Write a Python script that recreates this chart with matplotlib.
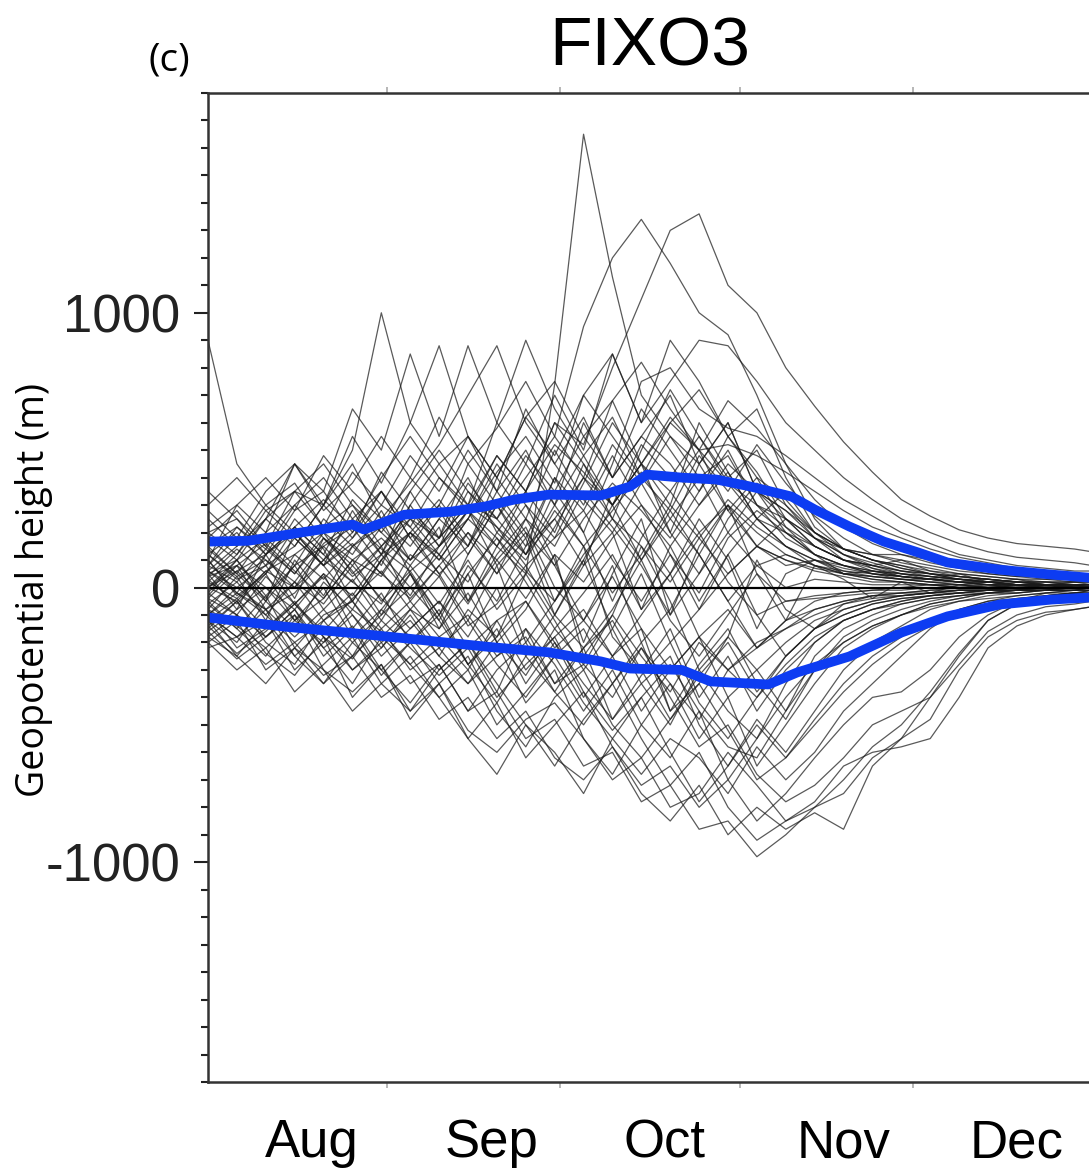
import matplotlib.pyplot as plt
from matplotlib.ticker import MultipleLocator, FixedLocator, NullFormatter

plt.rcParams['axes.unicode_minus'] = False

# x positions: days since 1 Aug
days = [0, 5, 10, 15, 20, 25, 30, 35, 40, 45, 50, 55, 60, 65, 70, 75,
        80, 85, 90, 95, 100, 105, 110, 115, 120, 125, 130, 135, 140, 145, 150, 153]

# ensemble members, geopotential height anomaly in dam
members_dam = [
    [5, 10, -3, 8, 15, 4, 12, 20, 10, 25, 15, 5, 74, 165, 113, 70, 55, 40, 48, 30, 18, 12, 5, 3, 2, 1, 0, 1, 0, 1, 0, 0],
    [0, -5, 6, 12, 3, 15, 22, 10, 18, 30, 25, 40, 55, 95, 120, 134, 118, 100, 92, 70, 45, 25, 14, 12, 10, 8, 6, 5, 4, 4, 3, 3],
    [8, 2, 14, 5, 18, 10, 4, 20, 12, 28, 15, 35, 60, 52, 80, 105, 130, 136, 110, 100, 80, 66, 53, 42, 32, 26, 21, 18, 16, 15, 14, 13],
    [90, 45, 30, 38, 22, 30, 15, 25, 18, 30, 22, 12, 25, 40, 30, 45, 35, 20, 30, 15, 8, 10, 5, 6, 4, 3, 5, 2, 3, 1, 2, 1],
    [20, 25, 15, 35, 30, 50, 100, 60, 45, 55, 35, 50, 30, 60, 40, 55, 70, 45, 60, 35, 20, 15, 10, 8, 10, 6, 4, 3, 2, 2, 1, 1],
    [10, 30, 20, 45, 35, 65, 50, 85, 55, 88, 60, 45, 70, 50, 85, 60, 90, 75, 55, 65, 40, 22, 14, 10, 8, 5, 4, 3, 2, 1, 1, 1],
    [-10, -18, -8, -25, -15, -30, -20, -35, -28, -45, -38, -55, -48, -65, -60, -78, -72, -88, -85, -98, -90, -80, -70, -58, -50, -38, -24, -12, -6, -3, -2, -1],
    [-20, -12, -30, -22, -35, -25, -40, -32, -48, -40, -55, -45, -62, -70, -58, -75, -85, -72, -90, -80, -88, -82, -88, -65, -55, -40, -25, -12, -6, -3, -2, -1],
    [-5, -15, -25, -10, -30, -38, -28, -45, -35, -52, -60, -48, -42, -55, -70, -62, -80, -75, -60, -72, -85, -78, -65, -60, -58, -55, -40, -22, -14, -10, -8, -7],
    [5, -8, 12, -4, 18, 6, -10, 8, 22, -5, 15, 30, 10, -20, 5, 25, -10, 15, 30, 5, -12, 8, 3, -4, 2, -2, 1, 0, 1, 0, 0, 0],
    [-8, 4, -12, 10, -3, 15, 25, 5, -10, 12, 30, 15, 40, 20, -5, 18, 35, 50, 28, 40, 22, 12, 8, 5, 3, 2, 1, 2, 1, 0, 1, 0],
    [12, 20, 8, 25, 14, -5, 10, 20, 5, -12, 8, -20, -5, 15, -18, -30, -15, -40, -25, -45, -30, -20, -12, -8, -5, -3, -2, -1, -1, 0, 0, 0],
    [-12, -20, -5, -15, 2, -8, 10, -3, 15, 28, 8, 20, -5, 10, 30, 45, 20, 5, 25, 38, 30, 18, 12, 9, 6, 5, 3, 2, 1, 1, 0, 0],
    [2, 12, 25, 15, 30, 18, 35, 22, 40, 28, 48, 35, 20, 45, 30, 10, 25, 40, 20, 35, 28, 18, 12, 8, 5, 4, 3, 2, 1, 1, 1, 0],
    [-15, -5, -20, -28, -12, -25, -8, -18, -30, -20, -38, -15, -28, -45, -30, -50, -35, -55, -40, -30, -45, -25, -15, -10, -6, -4, -3, -2, -1, -1, 0, 0],
    [15, 5, -5, 8, -8, 3, -12, 5, -15, 5, -20, -8, 12, -25, -10, 15, -5, -30, -18, 10, -8, -15, -6, -3, -2, -1, 0, 0, 0, 0, 0, 0],
    [-2, 10, -5, 20, 8, 28, 12, 35, 18, 45, 30, 12, 35, 55, 40, 65, 50, 35, 55, 42, 25, 15, 10, 7, 5, 3, 2, 2, 1, 1, 0, 0],
    [-6, -15, -3, -22, -10, -5, -20, -12, -25, -8, -18, 5, -12, -30, -15, -35, -50, -30, -45, -55, -35, -20, -12, -8, -5, -3, -2, -1, -1, 0, 0, 0],
    [25, 15, 30, 20, 10, 25, 35, 18, 30, 15, 40, 25, 50, 32, 20, 38, 20, 45, 28, 15, 25, 18, 10, 6, 4, 3, 2, 2, 1, 1, 0, 0],
    [-10, 0, 8, -6, 5, -15, -2, -20, -8, -28, -15, -35, -20, -40, -25, -15, -45, -28, -15, -35, -48, -30, -18, -12, -8, -5, -3, -2, -1, -1, 0, 0],
    [8, 18, 10, 0, 15, 22, 8, 30, 15, 25, 45, 30, 18, 38, 60, 45, 30, 60, 42, 25, 35, 20, 12, 7, 4, 3, 2, 1, 1, 1, 0, 0],
    [-18, -25, -12, -30, -20, -10, -25, -15, -5, -22, -12, -30, -18, -8, -25, -45, -30, -18, -40, -65, -50, -35, -22, -15, -10, -6, -4, -2, -1, -1, 0, 0],
    [3, -6, 5, -12, 0, -18, -8, 5, -12, 8, -5, 15, 25, 8, 20, -8, 15, -5, 12, 25, 15, 8, 5, 3, 2, 1, 1, 0, 1, 0, 0, 0],
    [18, 28, 15, 5, 20, 12, 28, 10, 25, 40, 20, 35, 60, 45, 25, 50, 72, 55, 40, 50, 30, 20, 14, 12, 12, 10, 8, 7, 6, 5, 5, 4],
    [-4, -10, -18, -8, -25, -15, -32, -20, -10, -28, -42, -25, -38, -22, -48, -35, -25, -50, -65, -48, -60, -45, -30, -20, -14, -8, -5, -3, -2, -1, -1, 0],
    [0, 6, -4, 12, 20, 5, 15, -5, 8, 20, 5, 18, -10, 8, 35, 20, 5, 25, 10, -15, 5, 10, 6, 4, 3, 2, 1, 1, 0, 0, 0, 0],
    [10, -2, -10, 2, -6, 8, -4, -15, -5, -18, 0, -25, -10, 10, -15, 5, -20, -8, 12, -10, -25, -15, -8, -5, -3, -2, -1, -1, 0, 0, 0, 0],
    [30, 40, 28, 35, 45, 30, 20, 35, 50, 35, 25, 45, 30, 15, 28, 42, 25, 12, 30, 20, 12, 8, 6, 5, 4, 3, 2, 1, 1, 1, 0, 0],
    [-22, -18, -28, -20, -32, -25, -15, -30, -22, -35, -25, -18, -35, -28, -40, -22, -35, -48, -30, -20, -15, -10, -6, -4, -3, -2, -1, -1, 0, 0, 0, 0],
    [6, 15, 25, 35, 22, 42, 30, 48, 35, 55, 40, 62, 75, 55, 68, 45, 60, 50, 52, 48, 42, 35, 28, 22, 18, 14, 11, 9, 7, 6, 5, 5],
    [-8, -22, -15, -5, -18, -30, -22, -10, -25, -35, -20, -42, -30, -55, -68, -50, -62, -45, -70, -55, -40, -28, -20, -14, -10, -6, -4, -2, -2, -1, -1, 0],
    [4, 8, 0, -8, 5, -3, 12, 0, 12, -5, 10, 22, 0, -12, 8, -20, -8, 12, -5, -22, -12, -5, -2, -1, 0, 1, 0, 0, 0, 0, 0, 0],
    [14, 5, 20, 30, 18, 8, 22, 40, 28, 12, 30, 48, 35, 20, 45, 75, 80, 65, 58, 55, 48, 40, 32, 26, 20, 16, 12, 10, 8, 7, 6, 6],
    [-14, -5, -18, -8, -22, -35, -18, -28, -40, -30, -50, -38, -25, -42, -55, -68, -55, -62, -75, -58, -70, -60, -45, -35, -25, -15, -8, -5, -3, -2, -1, -1],
    [0, 10, 18, 8, 25, 15, 5, 20, 32, 18, 5, 25, 15, 35, 22, 8, -10, 5, 20, 8, 0, 3, 2, 1, 1, 1, 0, 0, 0, 0, 0, 0],
    [-10, -18, -12, -25, -35, -20, -30, -42, -28, -45, -30, -20, -38, -50, -35, -22, -40, -58, -50, -68, -78, -72, -62, -50, -45, -40, -28, -16, -10, -7, -6, -5],
    [12, 3, 8, 15, 30, 45, 25, 15, 30, 50, 35, 65, 45, 30, 52, 38, 55, 45, 60, 35, 25, 15, 10, 8, 6, 4, 3, 2, 2, 1, 1, 1],
    [-3, 8, -8, 2, -12, -5, -18, -8, -22, -12, -28, -40, -25, -15, -35, -20, -45, -35, -18, -30, -20, -12, -8, -5, -3, -2, -1, -1, 0, 0, 0, 0],
    [22, 30, 40, 28, 48, 35, 25, 38, 52, 70, 88, 60, 45, 62, 40, 55, 45, 30, 42, 25, 15, 10, 8, 6, 5, 4, 3, 2, 1, 1, 1, 0],
    [-16, -8, 0, -12, -4, 10, -5, 6, -10, 5, 18, 2, -15, -2, 12, -8, 5, 20, 2, -10, -5, -3, -2, -1, -1, 0, 0, 0, 0, 0, 0, 0],
    [35, 25, 12, 20, 8, 18, 30, 22, 10, 25, 42, 55, 38, 70, 85, 60, 75, 90, 88, 75, 60, 50, 40, 32, 25, 20, 16, 13, 11, 10, 9, 8],
    [-12, -25, -35, -22, -30, -45, -35, -25, -40, -55, -42, -62, -50, -38, -58, -72, -65, -80, -70, -85, -75, -62, -50, -40, -38, -30, -18, -10, -5, -2, -1, -1],
    [6, -2, 12, 22, 12, 2, 15, 28, 15, 35, 22, 8, 18, 28, 10, -5, 12, -8, 5, 15, 10, 6, 4, 2, 2, 1, 1, 0, 0, 0, 0, 0],
    [18, 10, 25, 45, 30, 55, 38, 60, 88, 55, 40, 62, 48, 70, 55, 40, 60, 72, 55, 40, 32, 20, 14, 10, 7, 5, 4, 3, 2, 1, 1, 1],
    [-6, 2, -10, -20, -12, -2, -15, -5, -18, -30, -12, -5, -20, -35, -48, -32, -20, -42, -55, -40, -25, -15, -10, -6, -4, -3, -2, -1, -1, 0, 0, 0],
    [8, 22, 14, 30, 40, 25, 12, 30, 45, 30, 60, 90, 65, 48, 30, 52, 40, 55, 38, 25, 20, 12, 8, 5, 4, 3, 2, 1, 1, 1, 0, 0],
    [-20, -30, -22, -38, -28, -18, -35, -45, -30, -20, -35, -50, -65, -48, -35, -55, -72, -60, -80, -92, -85, -80, -75, -62, -55, -48, -30, -18, -12, -9, -8, -7],
    [2, -4, 6, 0, 10, 20, 35, 18, 5, 15, 35, 20, 8, 25, 38, 28, 15, 30, 45, 35, 28, 20, 14, 10, 7, 5, 3, 2, 1, 1, 1, 0],
    [10, -3, 5, 18, 8, -5, 10, 25, 12, 2, 20, 10, 28, 15, -2, 12, 30, 18, 5, 15, 10, 7, 5, 4, 3, 3, 2, 2, 1, 1, 1, 1],
    [-12, -4, -15, -6, 4, -10, -22, -8, -15, -2, -20, -32, -15, -28, -10, -25, -38, -20, -30, -40, -28, -18, -12, -8, -6, -4, -3, -2, -2, -1, -1, -1],
    [4, 14, 5, 22, 12, 32, 20, 10, 25, 15, 32, 18, 40, 28, 48, 30, 18, 35, 50, 30, 22, 15, 10, 8, 6, 5, 4, 3, 2, 2, 1, 1],
    [-8, -14, -22, -12, -20, -8, -16, -28, -18, -10, -25, -15, -35, -22, -12, -30, -48, -32, -20, -38, -25, -15, -10, -6, -4, -3, -2, -2, -1, -1, -1, 0],
    [15, 22, 12, 28, 35, 20, 42, 28, 18, 38, 25, 12, 30, 48, 62, 40, 28, 48, 35, 52, 38, 26, 18, 12, 9, 7, 5, 4, 3, 2, 2, 2],
    [-2, -10, 4, -6, -16, -4, 6, -8, 4, -14, -6, 8, -10, -22, -8, 10, -12, -25, -10, 5, -5, -4, -3, -2, -2, -1, -1, -1, 0, 0, 0, 0],
    [0, 8, 16, 6, -4, 10, 18, 8, -6, 10, -8, 5, 22, 40, 25, 10, 28, 12, -5, 8, 12, 8, 5, 4, 3, 2, 2, 1, 1, 1, 1, 1],
    [-14, -24, -16, -6, -18, -26, -12, -22, -32, -22, -40, -28, -18, -38, -52, -40, -28, -45, -58, -62, -45, -30, -20, -14, -10, -7, -5, -4, -3, -2, -2, -2],
    [6, 0, -8, -2, 10, 2, -6, 12, 4, 20, 10, -4, 12, 2, 18, 30, 12, -2, 18, 28, 20, 12, 8, 6, 5, 4, 3, 3, 2, 2, 2, 2],
    [20, 12, 28, 18, 8, 16, 5, -4, 8, -6, 12, 25, 8, -12, -25, -10, 5, -18, -30, -22, -12, -8, -5, -3, -2, -2, -1, -1, -1, 0, 0, 0],
    [-4, 6, 12, 22, 32, 22, 40, 55, 40, 30, 48, 35, 52, 42, 30, 45, 62, 50, 38, 30, 25, 18, 14, 10, 8, 6, 5, 4, 3, 3, 2, 2],
    [-16, -26, -18, -10, -22, -14, -30, -20, -35, -25, -45, -58, -40, -30, -50, -62, -48, -35, -52, -70, -62, -50, -38, -28, -20, -14, -9, -6, -4, -3, -2, -2],
    [12, 4, 10, 2, 16, 24, 14, 6, 15, 28, 18, 6, -5, 12, 25, 15, 2, 18, 32, 22, 15, 10, 7, 5, 4, 3, 3, 2, 2, 1, 1, 1],
    [-10, -2, -8, -18, -8, -20, -10, 0, -12, -28, -18, -5, -22, -12, 4, -15, -30, -18, -8, -22, -15, -8, -5, -3, -3, -2, -2, -1, -1, -1, 0, 0],
    [28, 18, 35, 45, 28, 38, 55, 40, 62, 45, 58, 75, 55, 40, 68, 82, 65, 50, 68, 58, 45, 32, 22, 16, 12, 9, 7, 5, 4, 3, 3, 2],
    [-18, -10, -24, -32, -18, -40, -28, -48, -35, -55, -68, -50, -60, -75, -55, -40, -60, -78, -65, -50, -62, -48, -35, -25, -18, -12, -8, -5, -4, -3, -2, -2],
]

# blue envelope lines (m)
upper_days = [0, 7, 16, 25, 27, 34, 42, 48, 53, 59, 68, 73, 76, 82, 88, 94, 101, 105, 111, 117, 123, 128, 137, 146, 153]
upper_vals = [167, 170, 200, 229, 211, 265, 276, 295, 320, 338, 335, 367, 411, 400, 393, 367, 331, 284, 222, 167, 127, 91, 65, 47, 35]
lower_days = [0, 13, 24, 36, 48, 59, 68, 73, 82, 87, 97, 102, 111, 120, 128, 137, 146, 153]
lower_vals = [-109, -142, -164, -189, -215, -236, -269, -295, -300, -342, -353, -309, -251, -164, -105, -62, -44, -36]

month_starts = [0, 31, 61, 92, 122, 153]
month_labels = ['Aug', 'Sep', 'Oct', 'Nov', 'Dec']

fig = plt.figure(figsize=(10.89, 11.72), dpi=100)
ax = fig.add_axes([208 / 1089, 1 - 1082 / 1172, (1092 - 208) / 1089, (1082 - 93) / 1172])

for m in members_dam:
    ax.plot(days, [v * 10 for v in m], color='#1a1a1a', lw=0.9, alpha=0.72)

ax.axhline(0, color='black', lw=1.6)
ax.plot(upper_days, upper_vals, color='#0d3cf2', lw=7, solid_capstyle='butt')
ax.plot(lower_days, lower_vals, color='#0d3cf2', lw=7, solid_capstyle='butt')

ax.set_xlim(0, 153)
ax.set_ylim(-1800, 1800)

# y axis: labels at -1000/0/1000, minor ticks every 100
ax.yaxis.set_major_locator(FixedLocator([-1000, 0, 1000]))
ax.yaxis.set_minor_locator(MultipleLocator(100))
ax.tick_params(axis='y', which='major', direction='out', length=10, width=1.5,
               labelsize=38, pad=10, colors='#222222')
ax.tick_params(axis='y', which='minor', direction='out', length=5, width=1.5, color='#222222')
for lab in ax.get_yticklabels():
    lab.set_fontfamily('Liberation Sans')

# x axis: small ticks at month boundaries, month names mid-month
ax.xaxis.set_major_locator(FixedLocator(month_starts[1:-1]))
ax.xaxis.set_major_formatter(NullFormatter())
ax.xaxis.set_minor_locator(FixedLocator([s + 18 for s in month_starts[:-1]]))
ax.set_xticklabels(month_labels, minor=True, fontsize=38, fontfamily='Liberation Sans')
ax.tick_params(axis='x', which='major', direction='out', length=4, width=1.2,
               color='#aaaaaa', top=True)
ax.tick_params(axis='x', which='minor', length=0, pad=26)

for side in ['left', 'top', 'bottom', 'right']:
    ax.spines[side].set_linewidth(1.8)
    ax.spines[side].set_color('#333333')

ax.set_title('FIXO3', fontsize=50, fontfamily='Liberation Sans', pad=20)
fig.text(148 / 1089, 1 - 61 / 1172, '(c)', fontsize=28, fontfamily='Open Sans',
         va='center', ha='left')
fig.text(34 / 1089, 1 - 590 / 1172, 'Geopotential height (m)', fontsize=27,
         fontfamily='Open Sans', rotation=90, va='center', ha='center')

fig.savefig('out.png', dpi=100)
plt.close(fig)
